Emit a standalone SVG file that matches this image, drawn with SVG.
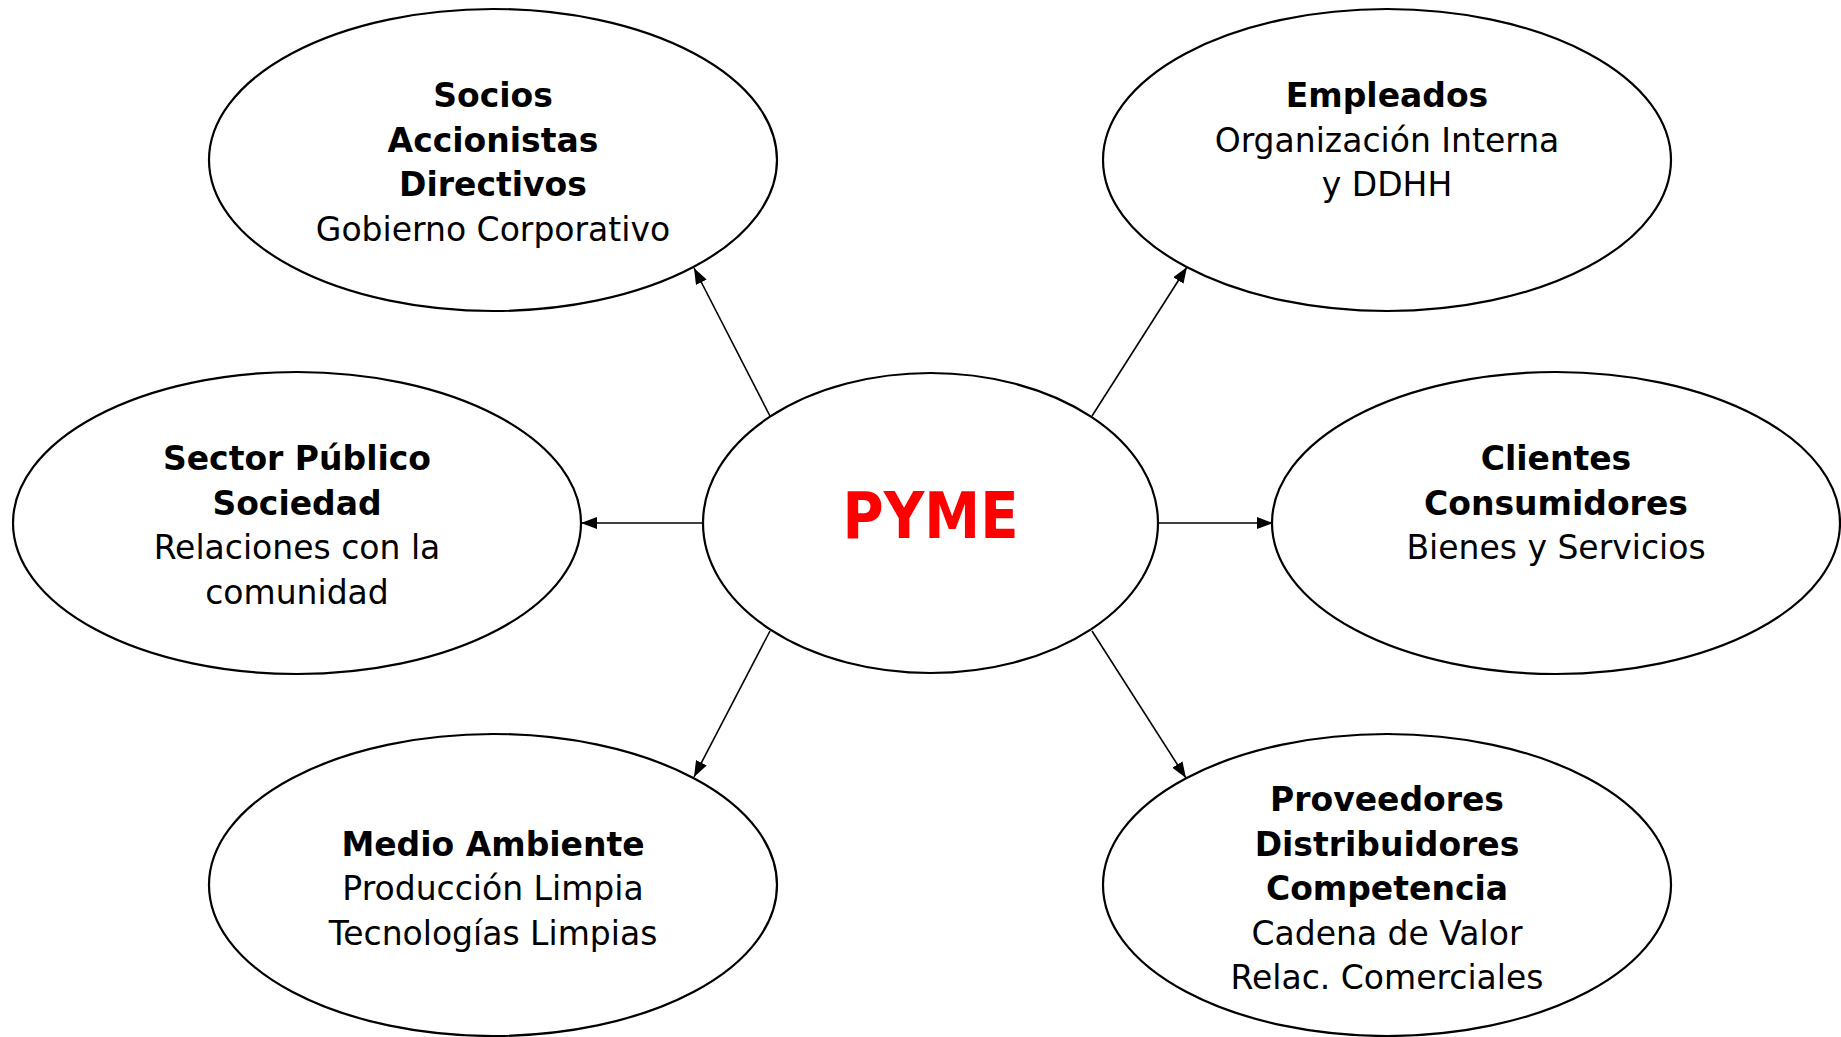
<svg xmlns="http://www.w3.org/2000/svg" width="1841" height="1037" viewBox="0 0 1841 1037">
<style>
.node{fill:#fff;stroke:#000;stroke-width:2.2}
.t{font-family:"DejaVu Sans","Liberation Sans",sans-serif;font-size:33px;fill:#000;text-anchor:middle}
.b{font-weight:bold}
.edge{stroke:#000;stroke-width:1.6;fill:none;marker-end:url(#arr)}
</style>
<defs>
<marker id="arr" viewBox="0 0 16 12" refX="16" refY="6" markerWidth="16" markerHeight="12" markerUnits="userSpaceOnUse" orient="auto">
<path d="M0,0 L16,6 L0,12 z" fill="#000"/>
</marker>
</defs>
<rect width="1841" height="1037" fill="#fff"/>
<g id="connectors">
<line class="edge" x1="770" y1="416" x2="694" y2="268"/>
<line class="edge" x1="1092" y1="416" x2="1187" y2="267"/>
<line class="edge" x1="703" y1="523" x2="581" y2="523"/>
<line class="edge" x1="1158" y1="523" x2="1273" y2="523"/>
<line class="edge" x1="770" y1="631" x2="694" y2="777"/>
<line class="edge" x1="1092" y1="631" x2="1186" y2="778"/>
</g>
<g id="socios">
<ellipse class="node" cx="493" cy="160" rx="284" ry="151"/>
<text class="t b" x="493" y="107">Socios</text>
<text class="t b" x="493" y="151.5">Accionistas</text>
<text class="t b" x="493" y="196">Directivos</text>
<text class="t" x="493" y="240.5">Gobierno Corporativo</text>
</g>
<g id="empleados">
<ellipse class="node" cx="1387" cy="160" rx="284" ry="151"/>
<text class="t b" x="1387" y="107">Empleados</text>
<text class="t" x="1387" y="151.5">Organización Interna</text>
<text class="t" x="1387" y="196">y DDHH</text>
</g>
<g id="sector">
<ellipse class="node" cx="297" cy="523" rx="284" ry="151"/>
<text class="t b" x="297" y="470">Sector Público</text>
<text class="t b" x="297" y="514.5">Sociedad</text>
<text class="t" x="297" y="559">Relaciones con la</text>
<text class="t" x="297" y="603.5">comunidad</text>
</g>
<g id="pyme">
<ellipse class="node" cx="930.5" cy="523" rx="227.5" ry="150"/>
<text x="930.5" y="538" font-family="DejaVu Sans, Liberation Sans, sans-serif" font-weight="bold" font-size="64" fill="#ff0000" text-anchor="middle" textLength="176" lengthAdjust="spacingAndGlyphs">PYME</text>
</g>
<g id="clientes">
<ellipse class="node" cx="1556" cy="523" rx="284" ry="151"/>
<text class="t b" x="1556" y="470">Clientes</text>
<text class="t b" x="1556" y="514.5">Consumidores</text>
<text class="t" x="1556" y="559">Bienes y Servicios</text>
</g>
<g id="medio">
<ellipse class="node" cx="493" cy="885" rx="284" ry="151"/>
<text class="t b" x="493" y="855.5">Medio Ambiente</text>
<text class="t" x="493" y="900">Producción Limpia</text>
<text class="t" x="493" y="944.5">Tecnologías Limpias</text>
</g>
<g id="proveedores">
<ellipse class="node" cx="1387" cy="885" rx="284" ry="151"/>
<text class="t b" x="1387" y="811">Proveedores</text>
<text class="t b" x="1387" y="855.5">Distribuidores</text>
<text class="t b" x="1387" y="900">Competencia</text>
<text class="t" x="1387" y="944.5">Cadena de Valor</text>
<text class="t" x="1387" y="989">Relac. Comerciales</text>
</g>
</svg>
